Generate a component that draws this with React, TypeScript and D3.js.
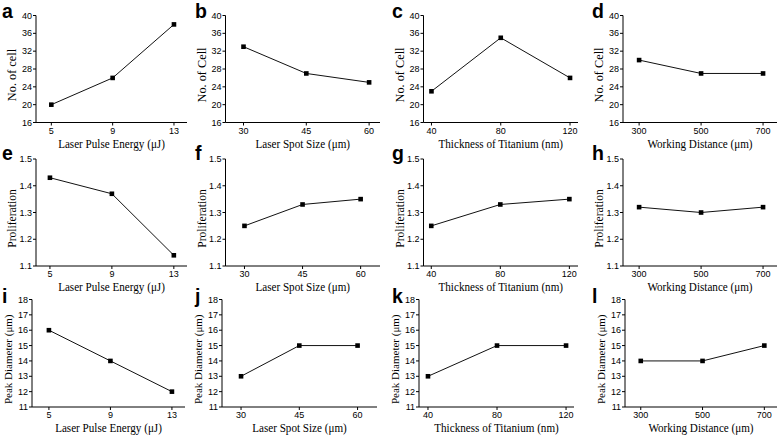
import * as d3 from "d3";

// x categories (one per column)
const energyLevels = [5, 9, 13];
const spotSizes = [30, 45, 60];
const titaniumThickness = [40, 80, 120];
const workingDistances = [300, 500, 700];

// row 1: number of cells
const cellEnergy = [20, 26, 38];
const cellSpot = [33, 27, 25];
const cellTitanium = [23, 35, 26];
const cellDistance = [30, 27, 27];

// row 2: proliferation
const prolifEnergy = [1.43, 1.37, 1.14];
const prolifSpot = [1.25, 1.33, 1.35];
const prolifTitanium = [1.25, 1.33, 1.35];
const prolifDistance = [1.32, 1.3, 1.32];

// row 3: peak diameter
const diamEnergy = [16, 14, 12];
const diamSpot = [13, 15, 15];
const diamTitanium = [13, 15, 15];
const diamDistance = [14, 14, 15];

// tick labels
const cellTicks = [16, 20, 24, 28, 32, 36, 40];
const prolifTicks = [1.1, 1.2, 1.3, 1.4, 1.5];
const diamTicks = [11, 12, 13, 14, 15, 16, 17, 18];

const xTitles = [
  "Laser Pulse Energy (\u03bcJ)",
  "Laser Spot Size (\u03bcm)",
  "Thickness of Titanium (nm)",
  "Working Distance (\u03bcm)",
];
const letters = ["abcd", "efgh", "ijkl"];

const xValues = [energyLevels, spotSizes, titaniumThickness, workingDistances];
const rowSeries = [
  [cellEnergy, cellSpot, cellTitanium, cellDistance],
  [prolifEnergy, prolifSpot, prolifTitanium, prolifDistance],
  [diamEnergy, diamSpot, diamTitanium, diamDistance],
];
const rowTicks = [cellTicks, prolifTicks, diamTicks];
const rowFormat = [d3.format("d"), d3.format(".1f"), d3.format("d")];

// layout (pixels) — not data
const W = 778;
const H = 435;
const rowY: [number, number][] = [
  [15.5, 122.5],
  [159, 266],
  [299.5, 407],
];
const colX: [number, number][][] = [
  [[36, 187], [225.5, 380], [423.5, 578], [623, 777]],
  [[36, 187], [225.5, 380], [423.5, 578], [623, 777]],
  [[32, 185], [222, 377], [419, 574], [625, 777]],
];
// axis extent in data units per panel
const xDomains: [number, number][][] = [
  [[4, 13.85], [25.7, 62.6], [35.4, 124.6], [248, 745]],
  [[4.1, 13.85], [25.1, 65], [35.5, 125], [248, 745]],
  [[3.9, 13.85], [25.1, 65], [34.8, 124.6], [249, 741]],
];
const letterX = [2, 195, 392, 592];
const letterY = [17.5, 160, 303];
const yTitleSize = [12.3, 11.6, 11];

const SERIF = "'Liberation Serif', 'Times New Roman', serif";
const SANS = "'Liberation Sans', Arial, sans-serif";

function yTitle(row: number, col: number) {
  if (row === 0) return col === 0 ? "No. of cell" : "No. of Cell";
  if (row === 1) return "Proliferation";
  return "Peak Diameter (\u03bcm)";
}

function Panel({ row, col }: { row: number; col: number }) {
  const [x0, x1] = colX[row][col];
  const [top, bottom] = rowY[row];
  const ticks = rowTicks[row];
  const xs = xValues[col];
  const ys = rowSeries[row][col];
  const fmt = rowFormat[row];

  const x = d3.scaleLinear().domain(xDomains[row][col]).range([x0, x1]);
  const y = d3
    .scaleLinear()
    .domain([ticks[0], ticks[ticks.length - 1]])
    .range([bottom, top]);

  const pts = xs.map((v, i) => [x(v), y(ys[i])] as [number, number]);
  const line = d3.line()(pts) ?? "";
  const mid = (top + bottom) / 2 + 6;

  return (
    <g>
      <text
        x={letterX[col]}
        y={letterY[row]}
        fontFamily={SANS}
        fontWeight="bold"
        fontSize={19.5}
        fill="#000"
      >
        {letters[row][col]}
      </text>
      <line x1={x0} x2={x0} y1={top} y2={bottom} stroke="#000" strokeWidth={1} />
      <line x1={x0} x2={x1} y1={bottom} y2={bottom} stroke="#000" strokeWidth={1} />
      {ticks.map((t) => (
        <g key={t}>
          <line x1={x0 - 3} x2={x0} y1={y(t)} y2={y(t)} stroke="#000" strokeWidth={1} />
          <text
            x={x0 - 4}
            y={y(t) + 3}
            textAnchor="end"
            fontFamily={SANS}
            fontSize={9}
            fill="#000"
          >
            {fmt(t)}
          </text>
        </g>
      ))}
      {xs.map((v) => (
        <g key={v}>
          <line x1={x(v)} x2={x(v)} y1={bottom} y2={bottom + 3} stroke="#000" strokeWidth={1} />
          <text
            x={x(v)}
            y={bottom + 11}
            textAnchor="middle"
            fontFamily={SANS}
            fontSize={9}
            fill="#000"
          >
            {v}
          </text>
        </g>
      ))}
      <path d={line} fill="none" stroke="#111" strokeWidth={1} />
      {pts.map(([px, py], i) => (
        <rect key={i} x={px - 2.3} y={py - 2.3} width={4.6} height={4.6} fill="#000" />
      ))}
      <text
        transform={`translate(${(x0 + x1) / 2},${bottom + 25}) scale(0.89,1)`}
        textAnchor="middle"
        fontFamily={SERIF}
        fontSize={12.5}
        fill="#000"
      >
        {xTitles[col]}
      </text>
      <text
        transform={`translate(${x0 - 20},${mid}) rotate(-90)`}
        textAnchor="middle"
        fontFamily={SERIF}
        fontSize={yTitleSize[row]}
        fill="#000"
      >
        {yTitle(row, col)}
      </text>
    </g>
  );
}

export default function App() {
  const cells: { row: number; col: number }[] = [];
  for (let r = 0; r < 3; r++) for (let c = 0; c < 4; c++) cells.push({ row: r, col: c });
  return (
    <svg
      width={W}
      height={H}
      viewBox={`0 0 ${W} ${H}`}
      style={{ position: "absolute", left: 0, top: 0, background: "#fff" }}
    >
      <rect width={W} height={H} fill="#fff" />
      {cells.map((p) => (
        <Panel key={`${p.row}-${p.col}`} row={p.row} col={p.col} />
      ))}
    </svg>
  );
}
